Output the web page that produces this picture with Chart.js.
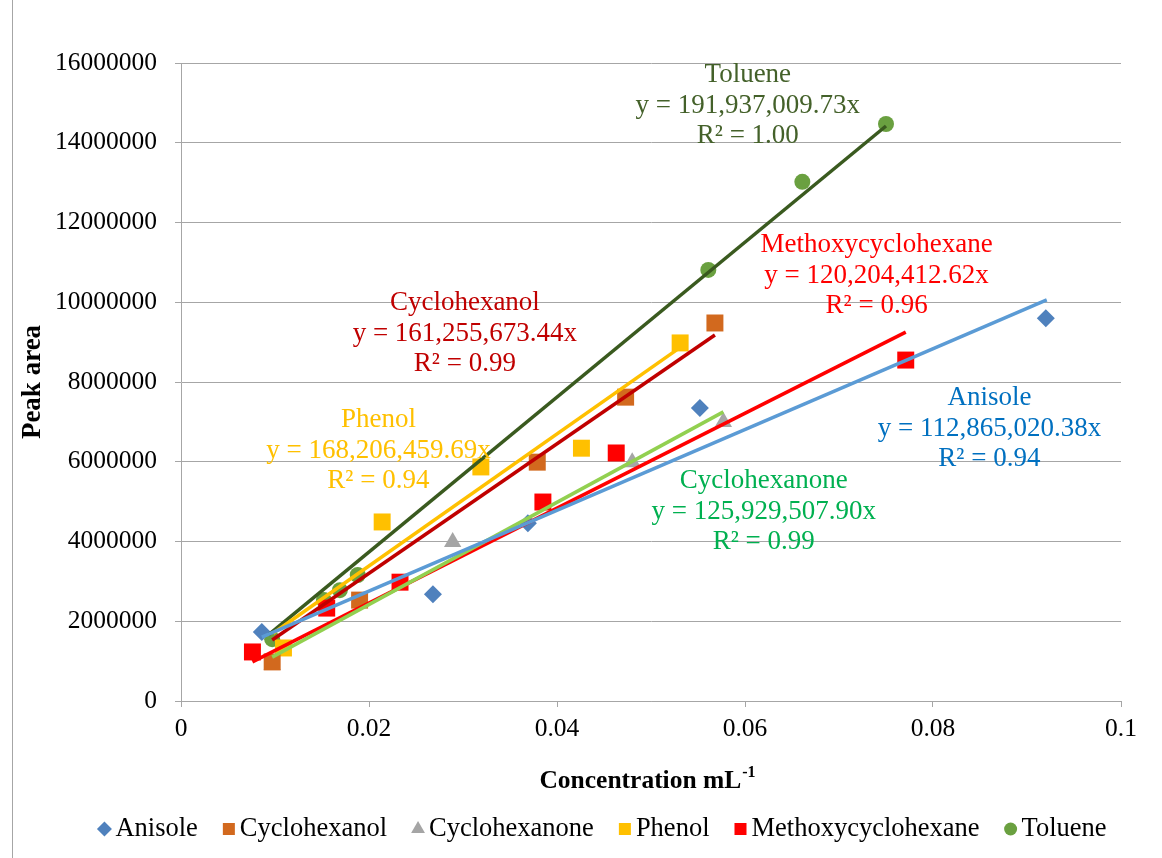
<!DOCTYPE html>
<html>
<head>
<meta charset="utf-8">
<script src="https://cdn.jsdelivr.net/npm/chart.js@4/dist/chart.umd.min.js"></script>
<style>
  html, body { margin: 0; padding: 0; background: #fff; }
  #wrap { width: 1162px; height: 858px; position: relative; }
</style>
</head>
<body>
<div id="wrap"><canvas id="chart" width="1162" height="858"></canvas></div>
<script>
// measured points (x = concentration, y = peak area)
const anisoleX = [0.0086, 0.0268, 0.0369, 0.0552, 0.0920];
const anisoleY = [1730000, 2680000, 4460000, 7350000, 9600000];
const cyclohexanolX = [0.0097, 0.0190, 0.0379, 0.0473, 0.0568];
const cyclohexanolY = [980000, 2530000, 5990000, 7620000, 9480000];
const cyclohexanoneX = [0.0097, 0.0289, 0.0480, 0.0577];
const cyclohexanoneY = [900000, 3990000, 5990000, 7000000];
const phenolX = [0.0109, 0.0214, 0.0319, 0.0426, 0.0531];
const phenolY = [1330000, 4490000, 5870000, 6340000, 8980000];
const methoxyX = [0.0076, 0.0155, 0.0233, 0.0385, 0.0463, 0.0771];
const methoxyY = [1230000, 2330000, 2980000, 4990000, 6220000, 8550000];
const tolueneX = [0.0097, 0.0152, 0.0169, 0.0188, 0.0561, 0.0661, 0.0750];
const tolueneY = [1550000, 2530000, 2780000, 3160000, 10810000, 13020000, 14470000];

// trend line end points
const anisoleTrendX = [0.0086, 0.0921];
const anisoleTrendY = [1600000, 10060000];
const cyclohexanolTrendX = [0.0097, 0.0568];
const cyclohexanolTrendY = [1530000, 9180000];
const cyclohexanoneTrendX = [0.0097, 0.0577];
const cyclohexanoneTrendY = [1100000, 7250000];
const phenolTrendX = [0.0098, 0.0530];
const phenolTrendY = [1700000, 8850000];
const methoxyTrendX = [0.0076, 0.0771];
const methoxyTrendY = [980000, 9250000];
const tolueneTrendX = [0.0093, 0.0750];
const tolueneTrendY = [1660000, 14420000];

const seriesNames = ['Anisole', 'Cyclohexanol', 'Cyclohexanone', 'Phenol', 'Methoxycyclohexane', 'Toluene'];
const equations = ['y = 112,865,020.38x', 'y = 161,255,673.44x', 'y = 125,929,507.90x',
                   'y = 168,206,459.69x', 'y = 120,204,412.62x', 'y = 191,937,009.73x'];
const rSquared = ['R² = 0.94', 'R² = 0.99', 'R² = 0.99', 'R² = 0.94', 'R² = 0.96', 'R² = 1.00'];

function pts(xs, ys) {
  return xs.map((x, i) => ({x: x, y: ys[i]}));
}

const markerColors = ['#4f81bd', '#d2691e', '#a5a5a5', '#ffc000', '#ff0000', '#6aa040'];
const markerStyles = ['rectRot', 'rect', 'triangle', 'rect', 'rect', 'circle'];
const markerSizes = [9, 12, 10, 12, 12, 8];
const legendSizes = [7.5, 8.5, 8, 8.5, 8.5, 6.5];
const trendColors = ['#5b9bd5', '#c00000', '#92d050', '#ffc000', '#ff0000', '#3a5a1f'];
const labelColors = ['#0070c0', '#c00000', '#00b050', '#ffc000', '#ff0000', '#44612a'];
// label anchor (data units) for the first text line
const labelPos = [[0.0860, 7600000], [0.0302, 9980000], [0.0620, 5520000],
                  [0.0210, 7050000], [0.0740, 11440000], [0.0603, 15700000]];

const pointSets = [pts(anisoleX, anisoleY), pts(cyclohexanolX, cyclohexanolY), pts(cyclohexanoneX, cyclohexanoneY),
                   pts(phenolX, phenolY), pts(methoxyX, methoxyY), pts(tolueneX, tolueneY)];
const trendSets = [pts(anisoleTrendX, anisoleTrendY), pts(cyclohexanolTrendX, cyclohexanolTrendY),
                   pts(cyclohexanoneTrendX, cyclohexanoneTrendY), pts(phenolTrendX, phenolTrendY),
                   pts(methoxyTrendX, methoxyTrendY), pts(tolueneTrendX, tolueneTrendY)];

const datasets = [];
for (let i = 0; i < seriesNames.length; i++) {
  datasets.push({
    label: seriesNames[i],
    data: pointSets[i],
    pointStyle: markerStyles[i],
    pointRadius: markerSizes[i],
    backgroundColor: markerColors[i],
    borderColor: markerColors[i],
    borderWidth: 0,
    showLine: false,
    order: 2
  });
}
for (let i = 0; i < seriesNames.length; i++) {
  datasets.push({
    label: seriesNames[i] + ' trend',
    data: trendSets[i],
    showLine: true,
    pointRadius: 0,
    borderColor: trendColors[i],
    borderWidth: 3.5,
    fill: false,
    order: 1
  });
}

const serif = '"Liberation Serif", "Times New Roman", serif';

const extras = {
  id: 'extras',
  afterDraw(chart) {
    const ctx = chart.ctx;
    const xs = chart.scales.x, ys = chart.scales.y;
    ctx.save();
    // frame line on the left
    ctx.strokeStyle = '#a6a6a6';
    ctx.lineWidth = 1;
    ctx.beginPath();
    ctx.moveTo(12.5, 0);
    ctx.lineTo(12.5, 858);
    ctx.stroke();
    // trend line labels
    ctx.font = '27px ' + serif;
    ctx.textAlign = 'center';
    ctx.textBaseline = 'middle';
    for (let i = 0; i < seriesNames.length; i++) {
      const px = xs.getPixelForValue(labelPos[i][0]);
      const py = ys.getPixelForValue(labelPos[i][1]);
      ctx.fillStyle = labelColors[i];
      ctx.fillText(seriesNames[i], px, py);
      ctx.fillText(equations[i], px, py + 31);
      ctx.fillText(rSquared[i], px, py + 61);
    }
    // x axis title with superscript
    const a = chart.chartArea;
    const main = 'Concentration mL';
    const sup = '-1';
    ctx.fillStyle = '#000';
    ctx.font = 'bold 25.5px ' + serif;
    const w1 = ctx.measureText(main).width;
    ctx.font = 'bold 16px ' + serif;
    const w2 = ctx.measureText(sup).width;
    const x0 = (a.left + a.right) / 2 - (w1 + w2) / 2 - 4;
    ctx.textAlign = 'left';
    ctx.textBaseline = 'alphabetic';
    ctx.font = 'bold 25.5px ' + serif;
    ctx.fillText(main, x0, 788);
    ctx.font = 'bold 16px ' + serif;
    ctx.fillText(sup, x0 + w1 + 1, 777);

    // legend: marker right next to its name
    ctx.font = '26.5px ' + serif;
    ctx.textBaseline = 'middle';
    const gap = 4, spacing = 24, boxW = 14;
    const widths = seriesNames.map(n => ctx.measureText(n).width);
    let total = 0;
    widths.forEach(w => { total += boxW + gap + w; });
    total += spacing * (widths.length - 1);
    let lx = 602 - total / 2;
    const ly = 829;
    for (let i = 0; i < seriesNames.length; i++) {
      ctx.fillStyle = markerColors[i];
      Chart.helpers.drawPoint(ctx, {
        pointStyle: markerStyles[i], radius: legendSizes[i], rotation: 0, borderWidth: 0
      }, lx + boxW / 2, ly);
      ctx.fillStyle = '#000';
      ctx.fillText(seriesNames[i], lx + boxW + gap, ly);
      lx += boxW + gap + widths[i] + spacing;
    }
    ctx.restore();
  }
};

new Chart(document.getElementById('chart'), {
  type: 'scatter',
  data: { datasets: datasets },
  plugins: [extras],
  options: {
    responsive: false,
    animation: false,
    layout: { padding: { left: 12, top: 63, right: 41, bottom: 0 } },
    plugins: {
      tooltip: { enabled: false },
      legend: { display: false }
    },
    scales: {
      x: {
        type: 'linear',
        min: 0,
        max: 0.1,
        afterFit: s => { s.height = 157; },
        ticks: {
          stepSize: 0.02,
          padding: 7,
          color: '#000',
          font: { family: serif, size: 25.5 },
          callback: v => Number(v.toFixed(2)).toString()
        },
        grid: { drawOnChartArea: false, tickLength: 6, color: '#a6a6a6' },
        border: { color: '#a6a6a6' }
      },
      y: {
        min: 0,
        max: 16000000,
        afterFit: s => { s.width = 169; },
        ticks: {
          stepSize: 2000000,
          padding: 18,
          color: '#000',
          font: { family: serif, size: 25.5 },
          callback: v => v.toString()
        },
        grid: { color: '#a6a6a6', tickLength: 6 },
        border: { color: '#a6a6a6' },
        title: {
          display: true,
          text: 'Peak area',
          color: '#000',
          padding: { top: 5, bottom: 0 },
          font: { family: serif, size: 27, weight: 'bold' }
        }
      }
    }
  }
});
</script>
</body>
</html>
